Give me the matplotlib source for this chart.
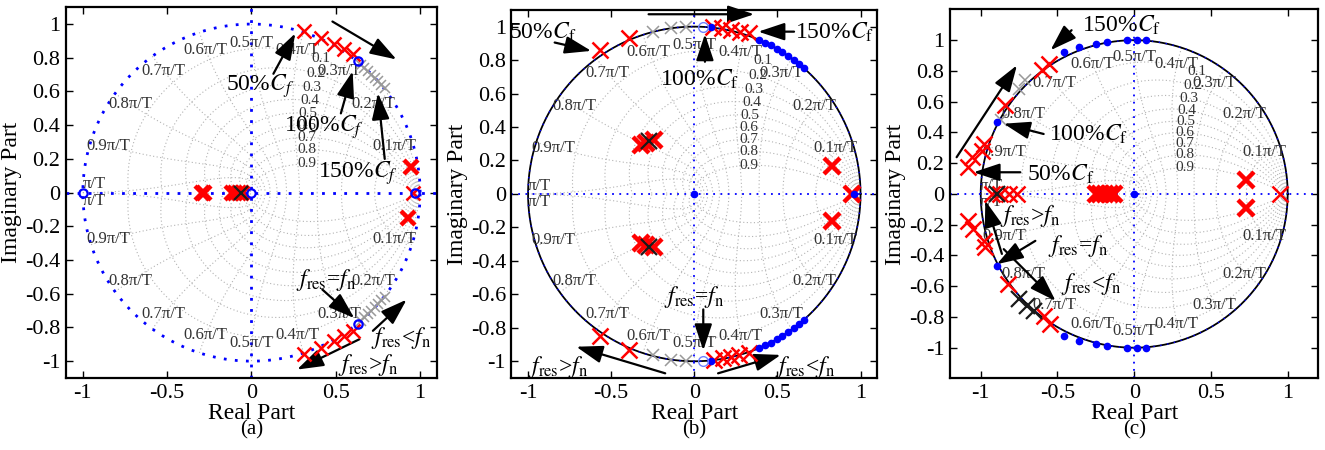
import numpy as np
import matplotlib
matplotlib.use('Agg')
from matplotlib import pyplot as plt

plt.rcParams['font.family'] = ['Liberation Serif', 'DejaVu Serif']
plt.rcParams['mathtext.fontset'] = 'stix'
plt.rcParams['axes.unicode_minus'] = False

# axis ticks
x_ticks = [-1, -0.5, 0, 0.5, 1]
x_ticklabels = ['-1', '-0.5', '0', '0.5', '1']
y_ticks = [-1, -0.8, -0.6, -0.4, -0.2, 0, 0.2, 0.4, 0.6, 0.8, 1]
y_ticklabels = ['-1', '-0.8', '-0.6', '-0.4', '-0.2', '0', '0.2', '0.4', '0.6', '0.8', '1']

# zgrid
zetas = [0.1, 0.2, 0.3, 0.4, 0.5, 0.6, 0.7, 0.8, 0.9]
wn_fracs = [0.1, 0.2, 0.3, 0.4, 0.5, 0.6, 0.7, 0.8, 0.9, 1.0]
wn_labels = ['0.1\u03c0/T', '0.2\u03c0/T', '0.3\u03c0/T', '0.4\u03c0/T', '0.5\u03c0/T',
             '0.6\u03c0/T', '0.7\u03c0/T', '0.8\u03c0/T', '0.9\u03c0/T', '\u03c0/T']

# ---- panel (a) ----
a_red_re = [0.31, 0.41, 0.49, 0.55, 0.60, 0.31, 0.41, 0.49, 0.55, 0.60, 0.955]
a_red_im = [0.96, 0.92, 0.88, 0.85, 0.82, -0.96, -0.92, -0.88, -0.85, -0.82, 0.0]
a_bold_re = [0.945, 0.93, -0.295, -0.28, -0.115, -0.095, -0.075, -0.055]
a_bold_im = [0.15, -0.15, 0, 0, 0, 0, 0, 0]
a_black_re = [-0.065]
a_black_im = [0.0]
a_gray_re = [0.65, 0.67, 0.69, 0.71, 0.73, 0.75, 0.77, 0.79,
             0.65, 0.67, 0.69, 0.71, 0.73, 0.75, 0.77, 0.79]
a_gray_im = [0.76, 0.74, 0.72, 0.70, 0.68, 0.66, 0.64, 0.62,
             -0.76, -0.74, -0.72, -0.70, -0.68, -0.66, -0.64, -0.62]
a_zero_re = [-1.0, 0.0, 0.97, 0.63, 0.63]
a_zero_im = [0.0, 0.0, 0.0, 0.78, -0.78]

# ---- panel (b) ----
b_red_re = [-0.57, -0.39, 0.11, 0.165, 0.22, 0.275, 0.33,
            -0.57, -0.39, 0.12, 0.17, 0.22, 0.27, 0.33]
b_red_im = [0.86, 0.93, 1.0, 0.99, 0.98, 0.97, 0.96,
            -0.85, -0.93, -0.99, -0.98, -0.975, -0.965, -0.95]
b_bold_re = [-0.32, -0.29, -0.245, -0.32, -0.29, -0.245, 0.83, 0.83, 0.95]
b_bold_im = [0.295, 0.305, 0.32, -0.295, -0.305, -0.32, 0.17, -0.16, 0.0]
b_black_re = [-0.275, -0.275]
b_black_im = [0.315, -0.315]
b_gray_re = [-0.25, -0.14, -0.05, -0.25, -0.14, -0.05]
b_gray_im = [0.965, 0.99, 1.0, -0.965, -0.99, -1.0]
b_dot_re = [0.39, 0.425, 0.46, 0.495, 0.53, 0.565, 0.6, 0.63, 0.66,
            0.39, 0.425, 0.46, 0.495, 0.53, 0.565, 0.6, 0.63, 0.66,
            0.1, 0.1, 0.0, 0.96]
b_dot_im = [0.92, 0.905, 0.888, 0.869, 0.848, 0.825, 0.8, 0.776, 0.751,
            -0.92, -0.905, -0.888, -0.869, -0.848, -0.825, -0.8, -0.776, -0.751,
            1.0, -1.0, 0.0, 0.0]
b_zero_re = [0.05, 0.05]
b_zero_im = [1.0, -1.0]

# ---- panel (c) ----
c_red_re = [-0.556, -0.6, -0.84, -0.976, -0.99, -1.06, -1.08,
            -1.08, -1.05, -0.98, -0.97, -0.82, -0.59, -0.55,
            -0.927, -0.872, -0.818, -0.764, 0.949]
c_red_im = [0.848, 0.804, 0.576, 0.326, 0.282, 0.239, 0.174,
            -0.174, -0.228, -0.305, -0.348, -0.587, -0.794, -0.848,
            0, 0, 0, 0, 0]
c_bold_re = [-0.25, -0.22, -0.19, -0.16, -0.13, 0.73, 0.73]
c_bold_im = [0, 0, 0, 0, 0, 0.09, -0.09]
c_black_re = [-0.895, -0.753, -0.7, -0.65]
c_black_im = [0.0, -0.685, -0.729, -0.76]
c_gray_re = [-0.71, -0.75, -0.87]
c_gray_im = [0.74, 0.685, 0.48]
c_dot_re = [-0.458, -0.36, -0.25, -0.175, -0.044, 0.02, 0.076,
            -0.458, -0.36, -0.25, -0.175, -0.044, 0.02, 0.076,
            -0.895, -0.895, 0.0]
c_dot_im = [0.924, 0.956, 0.978, 0.99, 1.0, 1.0, 1.0,
            -0.924, -0.956, -0.978, -0.99, -1.0, -1.0, -1.0,
            0.468, -0.468, 0.0]

ARROW = dict(arrowstyle='-|>,head_length=0.9,head_width=0.3', color='k',
             lw=1.6, mutation_scale=18, shrinkA=0, shrinkB=0)
GRID = dict(color='0.7', lw=0.8, ls=(0, (1, 2.2)), zorder=1)


def zgrid(ax):
    phi = np.linspace(0, np.pi, 300)
    for z in zetas:
        r = np.exp(-z / np.sqrt(1 - z**2) * phi)
        ax.plot(r * np.cos(phi), r * np.sin(phi), **GRID)
        ax.plot(r * np.cos(phi), -r * np.sin(phi), **GRID)
        th = 1.1
        rr = np.exp(-z * th)
        ax.text(rr * np.cos(th * np.sqrt(1 - z**2)), rr * np.sin(th * np.sqrt(1 - z**2)),
                str(z), fontsize=11, ha='center', va='center', color='0.2', zorder=2)
    zz = np.linspace(0, 1, 200)
    for w, lab in zip(wn_fracs, wn_labels):
        wt = w * np.pi
        r = np.exp(-zz * wt)
        ang = wt * np.sqrt(1 - zz**2)
        ax.plot(r * np.cos(ang), r * np.sin(ang), **GRID)
        ax.plot(r * np.cos(ang), -r * np.sin(ang), **GRID)
        if w < 1:
            for s in (1, -1):
                ax.text(0.89 * np.cos(wt), s * 0.89 * np.sin(wt), lab, fontsize=12,
                        ha='center', va='center', color='0.2', zorder=2)
        else:
            ax.text(-0.93, 0.05, lab, fontsize=12, ha='center', va='center', color='0.2', zorder=2)
            ax.text(-0.93, -0.05, lab, fontsize=12, ha='center', va='center', color='0.2', zorder=2)


def base(ax, lim, solid, label):
    t = np.linspace(0, 2 * np.pi, 400)
    if solid:
        ax.plot(np.cos(t), np.sin(t), color='k', lw=1.3, zorder=2)
        ax.plot(np.cos(t), np.sin(t), color='b', lw=1.0, ls=(0, (1, 4)), zorder=2)
        blw = 1.3
    else:
        ax.plot(np.cos(t), np.sin(t), color='b', lw=2.0, ls=(0, (1, 3)), zorder=2)
        blw = 2.0
    ax.axhline(0, color='b', lw=blw, ls=(0, (1, 3)), zorder=2)
    ax.axvline(0, color='b', lw=blw, ls=(0, (1, 3)), zorder=2)
    zgrid(ax)
    ax.set_xlim(-lim, lim)
    ax.set_ylim(-lim, lim)
    ax.set_xticks(x_ticks)
    ax.set_xticklabels(x_ticklabels)
    ax.set_yticks(y_ticks)
    ax.set_yticklabels(y_ticklabels)
    ax.tick_params(direction='in', top=True, right=True, length=5, width=1, labelsize=16, pad=4)
    for sp in ax.spines.values():
        sp.set_linewidth(1.6)
    ax.set_xlabel('Real Part', fontsize=17, labelpad=0)
    ax.set_ylabel('Imaginary Part', fontsize=17, labelpad=2)
    ax.text(0.5, -0.14, label, transform=ax.transAxes, ha='center', va='center', fontsize=15)


def marks(ax, red, bold, black, gray, ms=11, gms=9):
    ax.plot(gray[0], gray[1], 'x', color='0.6', ms=gms, mew=1.1, zorder=3)
    ax.plot(red[0], red[1], 'x', color='r', ms=ms, mew=1.8, zorder=4)
    ax.plot(bold[0], bold[1], 'x', color='r', ms=ms, mew=3.2, zorder=4)
    ax.plot(black[0], black[1], 'x', color='0.1', ms=ms, mew=1.6, zorder=5)


fig = plt.figure(figsize=(13.25, 4.5), dpi=100)

# (a)
ax = fig.add_axes([0.0498, 0.16, 0.28, 0.824])
base(ax, 1.1, False, '(a)')
marks(ax, (a_red_re, a_red_im), (a_bold_re, a_bold_im), (a_black_re, a_black_im),
      (a_gray_re, a_gray_im), ms=10, gms=7)
ax.plot(a_zero_re, a_zero_im, 'o', mfc='none', mec='b', ms=6, mew=1.6, zorder=6)
ax.text(0.05, 0.63, r'50%$C_f$', fontsize=17, ha='center', va='center')
ax.annotate('', xy=(0.26, 0.945), xytext=(0.13, 0.705), arrowprops=ARROW)
ax.text(0.43, 0.39, r'100%$C_f$', fontsize=17, ha='center', va='center')
ax.annotate('', xy=(0.6, 0.72), xytext=(0.53, 0.47), arrowprops=ARROW)
ax.text(0.63, 0.115, r'150%$C_f$', fontsize=17, ha='center', va='center')
ax.annotate('', xy=(0.75, 0.59), xytext=(0.79, 0.2), arrowprops=ARROW)
ax.annotate('', xy=(0.86, 0.79), xytext=(0.48, 1.015), arrowprops=ARROW)
ax.text(0.44, -0.52, r'$f_\mathrm{res}$=$f_\mathrm{n}$', fontsize=17, ha='center', va='center')
ax.annotate('', xy=(0.61, -0.745), xytext=(0.42, -0.575), arrowprops=ARROW)
ax.annotate('', xy=(0.92, -0.635), xytext=(0.72, -0.82), arrowprops=ARROW)
ax.text(0.89, -0.86, r'$f_\mathrm{res}$<$f_\mathrm{n}$', fontsize=17, ha='center', va='center')
ax.annotate('', xy=(0.27, -1.05), xytext=(0.64, -0.87), arrowprops=ARROW)
ax.text(0.69, -1.02, r'$f_\mathrm{res}$>$f_\mathrm{n}$', fontsize=17, ha='center', va='center')

# (b)
ax = fig.add_axes([0.386, 0.16, 0.276, 0.818])
base(ax, 1.1, True, '(b)')
marks(ax, (b_red_re, b_red_im), (b_bold_re, b_bold_im), (b_black_re, b_black_im),
      (b_gray_re, b_gray_im), ms=11)
ax.plot(b_dot_re, b_dot_im, 'o', color='b', ms=4.5, zorder=5)
ax.plot(b_zero_re, b_zero_im, 'o', mfc='none', mec='#7080ff', ms=7, mew=1.0, zorder=5)
ax.annotate('', xy=(0.36, 1.074), xytext=(-0.275, 1.074), arrowprops=ARROW)
ax.text(-0.91, 0.965, r'50%$C_\mathrm{f}$', fontsize=17, ha='center', va='center')
ax.annotate('', xy=(-0.62, 0.855), xytext=(-0.84, 0.905), arrowprops=ARROW)
ax.text(0.845, 0.965, r'150%$C_\mathrm{f}$', fontsize=17, ha='center', va='center')
ax.annotate('', xy=(0.385, 0.97), xytext=(0.6, 0.97), arrowprops=ARROW)
ax.text(0.035, 0.685, r'100%$C_\mathrm{f}$', fontsize=17, ha='center', va='center')
ax.annotate('', xy=(0.064, 0.955), xytext=(0.064, 0.79), arrowprops=ARROW)
ax.text(0.0, -0.615, r'$f_\mathrm{res}$=$f_\mathrm{n}$', fontsize=17, ha='center', va='center')
ax.annotate('', xy=(0.054, -0.935), xytext=(0.054, -0.69), arrowprops=ARROW)
ax.annotate('', xy=(-0.71, -0.913), xytext=(-0.175, -1.072), arrowprops=ARROW)
ax.text(-0.82, -1.035, r'$f_\mathrm{res}$>$f_\mathrm{n}$', fontsize=17, ha='center', va='center')
ax.annotate('', xy=(0.52, -0.962), xytext=(0.143, -1.072), arrowprops=ARROW)
ax.text(0.665, -1.035, r'$f_\mathrm{res}$<$f_\mathrm{n}$', fontsize=17, ha='center', va='center')

# (c)
ax = fig.add_axes([0.717, 0.159, 0.278, 0.82])
base(ax, 1.2, True, '(c)')
marks(ax, (c_red_re, c_red_im), (c_bold_re, c_bold_im), (c_black_re, c_black_im),
      (c_gray_re, c_gray_im), ms=11)
ax.plot(c_dot_re, c_dot_im, 'o', color='b', ms=4.5, zorder=5)
ax.text(-0.085, 1.098, r'150%$C_\mathrm{f}$', fontsize=17, ha='center', va='center')
ax.annotate('', xy=(-0.545, 0.935), xytext=(-0.408, 1.065), arrowprops=ARROW)
ax.annotate('', xy=(-0.764, 0.837), xytext=(-1.157, 0.239), arrowprops=ARROW)
ax.text(-0.3, 0.39, r'100%$C_\mathrm{f}$', fontsize=17, ha='center', va='center')
ax.annotate('', xy=(-0.85, 0.457), xytext=(-0.59, 0.39), arrowprops=ARROW)
ax.text(-0.48, 0.13, r'50%$C_\mathrm{f}$', fontsize=17, ha='center', va='center')
ax.annotate('', xy=(-1.047, 0.141), xytext=(-0.742, 0.141), arrowprops=ARROW)
ax.text(-0.675, -0.142, r'$f_\mathrm{res}$>$f_\mathrm{n}$', fontsize=17, ha='center', va='center')
ax.annotate('', xy=(-0.97, -0.044), xytext=(-0.862, -0.39), arrowprops=ARROW)
ax.text(-0.365, -0.337, r'$f_\mathrm{res}$=$f_\mathrm{n}$', fontsize=17, ha='center', va='center')
ax.annotate('', xy=(-0.895, -0.457), xytext=(-0.644, -0.305), arrowprops=ARROW)
ax.text(-0.28, -0.587, r'$f_\mathrm{res}$<$f_\mathrm{n}$', fontsize=17, ha='center', va='center')
ax.annotate('', xy=(-0.512, -0.696), xytext=(-0.85, -0.359), arrowprops=ARROW)

fig.savefig('out.png', dpi=100)
